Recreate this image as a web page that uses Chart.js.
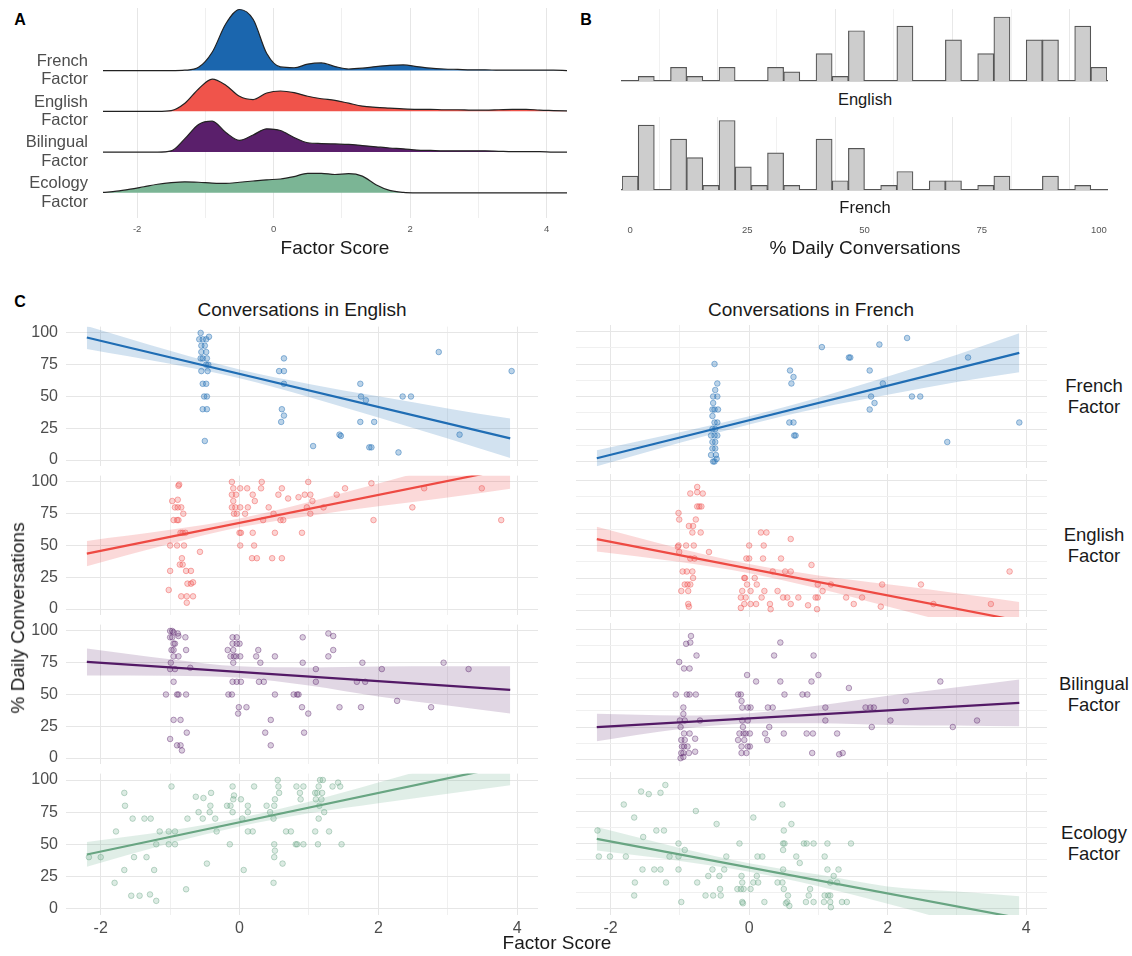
<!DOCTYPE html>
<html>
<head>
<meta charset="utf-8">
<title>Factor scores and daily conversations</title>
<script src="https://cdn.jsdelivr.net/npm/chart.js@4.4.1/dist/chart.umd.min.js"></script>
<style>
  body { margin: 0; background: #fff; font-family: "Liberation Sans", Arial, sans-serif; }
  .wrapper { position: relative; width: 1132px; height: 956px; overflow: hidden; }
  canvas { position: absolute; }
  .label { position: absolute; transform: translate(-50%, -50%); white-space: nowrap; text-align: center; color: #1a1a1a; line-height: 1.15; }
  .letter { font-weight: bold; color: #000; }
</style>
</head>
<body>
<div class="wrapper"></div>
<script>
const $wrapper = document.querySelector(".wrapper");

// panel A: ridgeline densities (height in ridge spacings)
const ridgeX = [-2.5, -2.3, -2.1, -1.9, -1.7, -1.5, -1.3, -1.1, -0.9, -0.7, -0.5, -0.3, -0.1, 0.1, 0.3, 0.5, 0.7, 0.9, 1.1, 1.3, 1.5, 1.7, 1.9, 2.1, 2.3, 2.5, 2.7, 2.9, 3.1, 3.3, 3.5, 3.7, 3.9, 4.1, 4.3];
const frenchDensity = [0, 0, 0, 0, 0, 0, 0.01, 0.08, 0.45, 1.15, 1.5, 1.26, 0.42, 0.09, 0.07, 0.16, 0.19, 0.1, 0.04, 0.06, 0.1, 0.13, 0.14, 0.1, 0.06, 0.04, 0.03, 0.02, 0.02, 0.01, 0.01, 0.01, 0.01, 0.01, 0];
const englishDensity = [0, 0, 0, 0, 0, 0.02, 0.2, 0.55, 0.79, 0.64, 0.37, 0.29, 0.45, 0.5, 0.46, 0.37, 0.31, 0.27, 0.2, 0.13, 0.1, 0.08, 0.06, 0.05, 0.05, 0.04, 0.04, 0.03, 0.03, 0.04, 0.05, 0.05, 0.03, 0.02, 0.01];
const bilingualDensity = [0, 0, 0, 0, 0, 0.03, 0.33, 0.68, 0.76, 0.48, 0.29, 0.42, 0.57, 0.53, 0.36, 0.23, 0.21, 0.2, 0.19, 0.16, 0.13, 0.1, 0.08, 0.05, 0.04, 0.03, 0.03, 0.03, 0.03, 0.02, 0.01, 0.01, 0.01, 0, 0];
const ecologyDensity = [0.01, 0.04, 0.09, 0.15, 0.21, 0.25, 0.27, 0.26, 0.24, 0.23, 0.26, 0.29, 0.32, 0.34, 0.4, 0.48, 0.48, 0.45, 0.47, 0.41, 0.2, 0.06, 0.01, 0, 0, 0, 0, 0, 0, 0, 0, 0, 0, 0, 0];
const ridgeNames = [["Ecology", "Factor"], ["Bilingual", "Factor"], ["English", "Factor"], ["French", "Factor"]];
const scoreTicks = [-2, -1, 0, 1, 2, 3, 4];

// panel B: histogram counts, 30 bins
const binCenters = [0, 3.45, 6.9, 10.34, 13.79, 17.24, 20.69, 24.14, 27.59, 31.03, 34.48, 37.93, 41.38, 44.83, 48.28, 51.72, 55.17, 58.62, 62.07, 65.52, 68.97, 72.41, 75.86, 79.31, 82.76, 86.21, 89.66, 93.1, 96.55, 100];
const englishCounts = [0, 1, 0, 3, 1, 0, 3, 0, 0, 3, 2, 0, 6, 1, 11, 0, 0, 12, 0, 0, 9, 0, 6, 14, 0, 9, 9, 0, 12, 3];
const frenchCounts = [3, 14, 0, 11, 7, 1, 15, 5, 1, 8, 1, 0, 11, 2, 9, 0, 1, 4, 0, 2, 2, 0, 1, 3, 0, 0, 3, 0, 1, 0];
const pctTicks = [0, 12.5, 25, 37.5, 50, 62.5, 75, 87.5, 100];

// panel C: fitted lines, bands and points [factor score, % conversations]
const lineX = [-2.2, 3.9];
const bandX = [-2.2, -1, 0, 1, 2, 3, 3.9];

const frEngLine = [96.4, 17.1];
const frEngUpper = [105.4, 85.9, 71.3, 59.9, 50.1, 40.6, 32.6];
const frEngLower = [87.4, 75.7, 64.3, 49.7, 33.5, 17.0, 1.6];
const frEngPts = [[-0.56,100],[-0.58,95],[-0.53,95],[-0.48,95],[-0.44,97],[-0.55,90],[-0.5,90],[-0.55,85],[-0.48,85],[-0.56,80],[-0.53,80],[-0.47,80],[-0.48,75],[-0.45,75],[-0.55,70],[-0.46,70],[-0.53,60],[-0.48,60],[-0.51,50],[-0.47,50],[-0.53,40],[-0.47,40],[-0.5,15],
  [0.64,80],[0.57,70],[0.64,70],[0.64,60],[0.61,40],[0.64,35],[0.6,30],[1.06,11],[1.44,20],[1.46,19],[1.74,60],[1.75,50],[1.82,47],[1.74,30],[1.94,30],[1.87,10],[1.9,10],[2.29,6],[2.35,50],[2.47,50],[2.87,85],[3.17,20],[3.92,70]];

const frFreLine = [2.5, 83.6];
const frFreUpper = [8.7, 22.5, 34.9, 49, 65.3, 82.1, 98.6];
const frFreLower = [-3.7, 14.5, 28.5, 41, 51.3, 61.1, 68.6];
const frFrePts = [[-0.5,75],[-0.46,60],[-0.49,55],[-0.52,50],[-0.46,50],[-0.52,45],[-0.53,40],[-0.5,40],[-0.45,40],[-0.53,35],[-0.5,30],[-0.46,30],[-0.53,25],[-0.49,25],[-0.55,20],[-0.5,20],[-0.46,20],[-0.53,15],[-0.49,15],[-0.53,10],[-0.49,10],[-0.55,5],[-0.48,5],[-0.52,0],[-0.5,0],[-0.47,2],
  [0.59,70],[0.64,65],[0.61,60],[0.58,30],[0.64,30],[0.65,20],[0.67,20],[1.05,88],[1.44,80],[1.46,80],[1.88,90],[2.28,95],[1.74,70],[1.93,60],[1.76,50],[1.81,45],[1.74,40],[2.35,50],[2.47,50],[3.16,80],[2.86,15],[3.9,30]];

const enEngLine = [43.6, 110.7];
const enEngUpper = [53.6, 62.3, 71.3, 84.3, 98.8, 113.8, 126.7];
const enEngLower = [33.6, 51.3, 64.3, 73.3, 80.8, 87.8, 94.7];
const enEngPts = [[-0.88,97],[-0.87,98],[-0.97,85],[-0.89,86],[-0.93,80],[-0.89,80],[-0.84,80],[-0.81,75],[-0.95,70],[-0.9,70],[-0.88,70],[-0.85,60],[-0.82,60],[-0.78,60],[-1.0,50],[-0.9,50],[-0.8,50],[-0.83,40],[-0.86,35],[-0.82,35],[-1.0,30],[-0.77,30],[-0.7,30],[-0.75,20],[-0.7,20],[-0.67,21],[-1.02,15],[-0.84,10],[-0.76,10],[-0.67,10],[-0.76,5],[-0.57,45],
  [-0.11,100],[-0.09,95],[0.01,95],[0.11,95],[0.31,95],[0.32,100],[-0.11,90],[-0.05,90],[0.19,90],[-0.09,85],[0.22,85],[-0.11,80],[-0.06,80],[0.01,80],[0.12,80],[-0.08,75],[-0.04,75],[0.08,75],[0,60],[0.02,60],[0.19,60],[0.51,60],[0.01,50],[0.21,50],[0.18,40],[0.25,40],[0.47,40],[0.61,40],[0.34,70],[0.42,80],[0.49,75],[0.56,90],[0.61,95],[0.59,70],[0.63,70],[0.7,87],[0.85,88],[0.94,90],[0.99,100],[1.02,90],[0.97,80],[1.05,85],[1.02,75],[0.9,60],[1.21,80],[1.4,90],[1.52,95],[1.9,99],[1.93,70],[2.49,80],[2.66,95],[3.49,95],[3.77,70]];

const enFreLine = [54.9, -8.0];
const enFreUpper = [64.4, 47.7, 35.7, 26.9, 20.1, 13.3, 6.5];
const enFreLower = [45.4, 37.3, 28.7, 16.9, 3.1, -10.7, -22.5];
const enFrePts = [[-0.75,95],[-0.85,90],[-0.75,91],[-0.67,90],[-0.75,80],[-0.72,80],[-0.69,80],[-1.02,75],[-1.01,70],[-0.77,70],[-0.87,65],[-0.81,65],[-0.82,60],[-0.7,60],[-1.02,50],[-0.91,50],[-0.8,50],[-1.03,49],[-1.01,45],[-0.58,45],[-0.85,40],[-0.79,40],[-0.96,30],[-0.9,30],[-0.82,30],[-0.81,25],[-0.93,20],[-0.89,20],[-0.85,20],[-0.98,15],[-0.88,15],[-0.88,5],[-0.87,3],
  [0.17,60],[0.25,60],[0,50],[0.21,50],[-0.04,40],[0,40],[0.2,40],[0.46,40],[0.6,55],[0.34,30],[0.52,30],[0.6,30],[0.08,25],[-0.07,25],[-0.06,25],[-0.03,20],[0.11,20],[-0.1,15],[0.02,15],[0.22,15],[0.41,15],[-0.12,10],[-0.05,10],[0.18,10],[0.49,10],[0.55,10],[0.71,10],[-0.07,5],[0.02,5],[0.1,5],[0.3,5],[0.6,5],[0.85,4],[-0.12,2],[0.31,1],[0.9,35],[0.99,20],[1.06,15],[1.18,20],[0.96,10],[0.99,10],[0.98,1],[1.4,10],[1.51,5],[1.63,10],[1.9,3],[1.92,20],[2.48,20],[2.66,5],[3.49,5],[3.76,30]];

const biEngLine = [75.6, 53.6];
const biEngUpper = [86.2, 77.8, 72.2, 71.3, 72.0, 72.3, 72.3];
const biEngLower = [65, 64.8, 63.2, 57.1, 48.5, 41.4, 35];
const biEngPts = [[-1.0,100],[-0.97,100],[-0.95,99],[-0.89,98],[-1.0,95],[-0.97,95],[-0.88,96],[-0.78,95],[-0.95,90],[-0.93,90],[-0.98,85],[-0.95,85],[-0.77,85],[-0.95,80],[-0.88,80],[-0.99,75],[-1.0,70],[-0.93,70],[-0.71,71],[-0.95,60],[-1.06,50],[-0.9,50],[-0.88,50],[-0.77,50],[-0.95,30],[-0.85,30],[-0.76,20],[-1.0,15],[-0.9,10],[-0.85,10],[-0.83,6],
  [-0.1,95],[-0.04,95],[-0.1,90],[-0.04,90],[0,90],[-0.17,85],[-0.09,85],[-0.13,80],[-0.08,80],[-0.05,80],[0.01,80],[-0.09,75],[-0.1,60],[-0.04,60],[0.02,60],[-0.16,50],[-0.11,50],[-0.01,40],[0.1,40],[-0.02,35],[0.27,85],[0.24,80],[0.3,75],[0.51,80],[0.28,60],[0.35,60],[0.51,50],[0.45,30],[0.37,20],[0.45,10],[0.78,50],[0.83,50],[0.85,50],[0.91,95],[0.91,75],[1.1,70],[1.1,60],[0.9,40],[0.99,35],[0.93,20],[1.28,98],[1.35,96],[1.28,80],[1.35,85],[1.44,40],[1.69,60],[1.81,60],[1.75,40],[1.77,75],[2.05,70],[2.27,45],[2.76,40],[2.94,75],[3.3,70]];

const biFreLine = [24.9, 43.6];
const biFreUpper = [35.1, 33.8, 35.6, 41.5, 49, 55.5, 61.5];
const biFreLower = [14.1, 23.4, 27.6, 27.9, 26.6, 26.1, 25.5];
const biFrePts = [[-0.84,95],[-0.91,89],[-0.85,90],[-0.76,80],[-1.01,75],[-0.94,70],[-0.86,70],[-1.06,50],[-0.9,50],[-0.86,50],[-0.77,50],[-0.95,40],[-0.95,35],[-1.0,30],[-0.93,30],[-0.71,30],[-0.99,25],[-0.94,20],[-0.86,20],[-0.98,15],[-0.93,15],[-0.78,16],[-0.97,10],[-0.94,10],[-0.89,10],[-0.98,5],[-0.95,5],[-0.87,5],[-0.78,6],[-0.99,1],[-0.95,2],
  [-0.16,50],[-0.12,50],[-0.11,45],[-0.1,40],[-0.02,40],[0.02,40],[-0.1,30],[-0.02,30],[-0.09,25],[-0.14,20],[-0.08,20],[-0.05,20],[0.01,20],[-0.16,15],[-0.07,15],[-0.11,10],[-0.02,10],[0.01,10],[-0.11,5],[-0.04,5],[-0.03,65],[0.1,60],[0.36,80],[0.45,90],[0.45,60],[0.51,50],[0.27,40],[0.34,40],[0.29,25],[0.23,20],[0.26,15],[0.5,20],[0.77,50],[0.84,50],[0.9,60],[0.93,80],[1.0,65],[0.83,20],[0.92,20],[0.91,5],[1.1,40],[1.1,30],[1.27,20],[1.3,4],[1.35,5],[1.44,55],[1.68,40],[1.75,40],[1.8,40],[1.77,25],[2.04,30],[2.26,45],[2.76,60],[2.94,25],[3.29,30]];

const ecEngLine = [42.1, 111.6];
const ecEngUpper = [51.7, 60.8, 70.5, 83.1, 98, 113.4, 127.3];
const ecEngLower = [32.5, 50.8, 63.9, 74.1, 82, 89.4, 95.9];
const ecEngPts = [[-1.66,90],[-1.65,80],[-1.54,70],[-1.37,70],[-1.28,70],[-1.78,60],[-2.17,40],[-2.0,40],[-1.52,40],[-1.34,40],[-1.66,30],[-1.23,30],[-1.8,20],[-1.56,10],[-1.44,10],[-1.29,11],[-1.2,6],[-1.15,60],[-1.02,60],[-0.93,60],[-1.2,50],[-1.02,50],[-0.93,50],[-0.98,95],[-0.75,70],[-0.77,15],[-0.63,87],[-0.52,86],[-0.41,90],[-0.59,75],[-0.43,75],[-0.42,80],[-0.53,70],[-0.35,70],[-0.33,60],[-0.47,35],[-0.14,50],[-0.18,80],[-0.13,80],[-0.09,85],[-0.08,88],[-0.1,95],[0.02,85],[-0.1,75],[0.12,75],[0.12,80],[0.04,70],[0.12,60],[0.19,60],[0.06,30],[0.21,95],[0.39,80],[0.5,80],[0.51,85],[0.44,75],[0.49,70],[0.55,100],[0.56,95],[0.57,90],[0.5,50],[0.51,45],[0.5,40],[0.62,35],[0.49,20],[0.67,60],[0.74,60],[0.82,95],[0.92,95],[0.87,90],[0.88,85],[0.81,50],[0.83,50],[0.92,50],[1.09,90],[1.12,90],[1.19,90],[1.1,85],[1.18,85],[1.15,80],[1.14,95],[1.16,100],[1.2,100],[1.14,70],[1.22,75],[1.09,60],[1.29,60],[1.13,50],[1.34,95],[1.42,98],[1.45,95],[1.47,50]];

const ecFreLine = [53.6, -7.4];
const ecFreUpper = [62.6, 46.6, 34.9, 26.1, 17, 13, 9.5];
const ecFreLower = [44.6, 36.6, 28.3, 17.1, 3.6, -10.9, -24.3];
const ecFrePts = [[-1.21,95],[-1.56,90],[-1.45,88],[-1.28,89],[-1.81,80],[-1.66,70],[-0.77,75],[-2.19,60],[-1.34,60],[-1.23,60],[-1.53,55],[-1.02,50],[-2.17,40],[-2.01,40],[-1.78,40],[-0.93,45],[-1.15,40],[-1.02,40],[-1.54,30],[-1.37,30],[-1.28,30],[-1.02,30],[-1.65,20],[-1.2,20],[-1.66,10],[-0.98,5],[-0.75,20],[-0.47,65],[-0.33,40],[-0.53,30],[-0.36,30],[-0.59,25],[-0.43,25],[-0.63,10],[-0.52,10],[-0.41,10],[-0.42,15],[-0.14,50],[-0.11,25],[-0.1,20],[-0.17,15],[-0.12,15],[-0.08,15],[0.02,15],[-0.1,5],[-0.09,4],[0.06,70],[0.12,40],[0.19,40],[0.11,25],[0.06,20],[0.13,20],[0.22,5],[0.48,80],[0.5,60],[0.49,50],[0.51,50],[0.49,45],[0.49,30],[0.41,20],[0.48,20],[0.5,15],[0.56,10],[0.55,5],[0.58,2],[0.53,4],[0.61,65],[0.68,40],[0.73,35],[0.79,50],[0.83,50],[0.93,50],[0.88,15],[0.86,10],[0.82,5],[0.93,5],[1.09,40],[1.13,50],[1.13,30],[1.29,30],[1.22,25],[1.17,20],[1.27,20],[1.09,10],[1.14,10],[1.17,10],[1.08,5],[1.17,5],[1.18,1],[1.34,5],[1.41,5],[1.47,50]];

const blue = { ridge: "#1b66ae", line: "#1f6db4", band: "rgba(31,109,180,0.2)", dot: "rgba(31,109,180,0.3)", edge: "rgba(31,109,180,0.45)" };
const red = { ridge: "#f0544b", line: "#ee4a43", band: "rgba(239,83,80,0.22)", dot: "rgba(239,83,80,0.25)", edge: "rgba(239,83,80,0.45)" };
const purple = { ridge: "#5a1f6b", line: "#531a66", band: "rgba(88,31,104,0.18)", dot: "rgba(88,31,104,0.22)", edge: "rgba(88,31,104,0.4)" };
const green = { ridge: "#7bb595", line: "#68a582", band: "rgba(116,176,144,0.22)", dot: "rgba(116,176,144,0.25)", edge: "rgba(100,160,128,0.4)" };

const rowTops = [325, 474, 623, 772];

Chart.defaults.font.family = "'Liberation Sans', Arial, sans-serif";
Chart.defaults.color = "#4d4d4d";
Chart.defaults.animation = false;
Chart.defaults.plugins.legend.display = false;
Chart.defaults.plugins.tooltip.enabled = false;

initPage();

function initPage()
{
  addLabel("A", 20, 20, 16, "letter");
  addLabel("B", 586, 20, 16, "letter");
  addLabel("C", 20, 302, 16, "letter");

  drawRidges();
  drawHistogram(englishCounts, 5, 82, false);
  drawHistogram(frenchCounts, 113, 127, true);

  addLabel("Factor Score", 335, 248, 19);
  addLabel("English", 865, 99, 16.5);
  addLabel("French", 865, 207, 16.5);
  addLabel("% Daily Conversations", 865, 248, 19);

  addLabel("Conversations in English", 302, 310, 19);
  addLabel("Conversations in French", 811, 310, 19);

  drawScatter(0, 0, frEngPts, frEngLine, frEngUpper, frEngLower, blue);
  drawScatter(0, 1, frFrePts, frFreLine, frFreUpper, frFreLower, blue);
  drawScatter(1, 0, enEngPts, enEngLine, enEngUpper, enEngLower, red);
  drawScatter(1, 1, enFrePts, enFreLine, enFreUpper, enFreLower, red);
  drawScatter(2, 0, biEngPts, biEngLine, biEngUpper, biEngLower, purple);
  drawScatter(2, 1, biFrePts, biFreLine, biFreUpper, biFreLower, purple);
  drawScatter(3, 0, ecEngPts, ecEngLine, ecEngUpper, ecEngLower, green);
  drawScatter(3, 1, ecFrePts, ecFreLine, ecFreUpper, ecFreLower, green);

  let strips = ["French<br>Factor", "English<br>Factor", "Bilingual<br>Factor", "Ecology<br>Factor"];
  strips.forEach((text, i) =>
  {
    let $strip = addLabel(text, 1094, rowTops[i] + 71, 18.5);
    $strip.style.lineHeight = "21px";
  });

  let $yTitle = addLabel("% Daily Conversations", 18, 618, 19);
  $yTitle.style.transform = "translate(-50%, -50%) rotate(-90deg)";
  addLabel("Factor Score", 557, 943, 19);
}

function addLabel(text, x, y, size, cls)
{
  let $label = document.createElement("div");
  $label.className = cls ? "label " + cls : "label";
  $label.innerHTML = text;
  $label.style.left = x + "px";
  $label.style.top = y + "px";
  $label.style.fontSize = size + "px";
  $wrapper.append($label);
  return $label;
}

function makeCanvas(left, top, width, height)
{
  let $canvas = document.createElement("canvas");
  $canvas.width = width;
  $canvas.height = height;
  $canvas.style.left = left + "px";
  $canvas.style.top = top + "px";
  $canvas.style.width = width + "px";
  $canvas.style.height = height + "px";
  $wrapper.append($canvas);
  return $canvas;
}

function fixedTicks(values)
{
  return function (scale) { scale.ticks = values.map(v => ({ value: v })); };
}

function gridColor(step, major, minor)
{
  return ctx => (ctx.tick && Math.abs(ctx.tick.value % step) < 1e-6) ? major : minor;
}

function drawRidges()
{
  let $canvas = makeCanvas(0, -22, 571, 265);
  let ridges = [ecologyDensity, bilingualDensity, englishDensity, frenchDensity];
  let colors = [green.ridge, purple.ridge, red.ridge, blue.ridge];

  let datasets = ridges.map((dens, offset) => ({
    data: ridgeX.map((x, i) => ({ x: x, y: offset + dens[i] })),
    fill: { value: offset },
    backgroundColor: colors[offset],
    borderColor: "#222222",
    borderWidth: 1.2,
    pointRadius: 0,
    cubicInterpolationMode: "monotone"
  }));

  new Chart($canvas, {
    type: "line",
    data: { datasets: datasets },
    options: {
      responsive: false,
      events: [],
      layout: { padding: { top: 30, right: 4, left: 0, bottom: 0 } },
      scales: {
        x: {
          type: "linear", min: -2.5, max: 4.3,
          afterBuildTicks: fixedTicks(scoreTicks),
          afterFit: s => { s.height = 24; },
          grid: { color: gridColor(2, "#e6e6e6", "#efefef"), drawTicks: false },
          border: { display: false },
          ticks: { padding: 6, font: { size: 9.5 }, color: "#555", callback: v => v % 2 === 0 ? v : "" }
        },
        y: {
          min: -0.61, max: 4.537,
          afterBuildTicks: fixedTicks([0, 1, 2, 3]),
          afterFit: s => { s.width = 103; },
          grid: { display: false },
          border: { display: false },
          ticks: { padding: 7, font: { size: 16.5, lineHeight: 1.11 }, color: "#4d4d4d", callback: v => ridgeNames[v] }
        }
      }
    }
  });
}

function drawHistogram(counts, top, height, showTicks)
{
  let $canvas = makeCanvas(618, top, 493, height);

  // tick labels sit below the strip label, so push them down with invisible tick marks
  new Chart($canvas, {
    type: "bar",
    data: {
      datasets: [{
        data: binCenters.map((x, i) => ({ x: x, y: counts[i] })),
        backgroundColor: "#cdcdcd",
        borderColor: "#555555",
        borderWidth: 1.2,
        barPercentage: 1,
        categoryPercentage: 1
      }]
    },
    options: {
      responsive: false,
      events: [],
      layout: { padding: { top: 4, right: 4, left: 4, bottom: showTicks ? 0 : 6 } },
      scales: {
        x: {
          type: "linear", min: -1.724, max: 101.724, offset: false,
          afterBuildTicks: fixedTicks(pctTicks),
          afterFit: s => { s.height = showTicks ? 50 : 0; },
          grid: { color: gridColor(25, "#e8e8e8", "#f1f1f1"), drawTicks: showTicks, tickLength: 33, tickColor: "rgba(0,0,0,0)" },
          border: { display: true, color: "#555555", width: 1.2 },
          ticks: { display: showTicks, padding: 2, font: { size: 9.5 }, color: "#555", callback: v => v % 25 === 0 ? v : "" }
        },
        y: { display: false, min: 0, max: 15.75 }
      }
    }
  });
}

function drawScatter(row, col, pts, lineY, upper, lower, color)
{
  let last = row === 3;
  let left = col === 0 ? 0 : 571;
  let width = col === 0 ? 543 : 481;
  let height = 16 + 143 + (last ? 30 : 16);
  let $canvas = makeCanvas(left, rowTops[row] - 16, width, height);

  let data = {
    datasets: [
      {
        data: lineX.map((x, i) => ({ x: x, y: lineY[i] })),
        borderColor: color.line, borderWidth: 2.2, pointRadius: 0, order: 0
      },
      {
        data: bandX.map((x, i) => ({ x: x, y: upper[i] })),
        borderColor: "rgba(0,0,0,0)", borderWidth: 0, pointRadius: 0, fill: false,
        cubicInterpolationMode: "monotone", order: 1
      },
      {
        data: bandX.map((x, i) => ({ x: x, y: lower[i] })),
        borderColor: "rgba(0,0,0,0)", borderWidth: 0, pointRadius: 0, fill: "-1",
        backgroundColor: color.band, cubicInterpolationMode: "monotone", order: 1
      },
      {
        data: pts.map(p => ({ x: p[0], y: p[1] })),
        showLine: false, pointRadius: 2.8, pointBackgroundColor: color.dot,
        pointBorderColor: color.edge, pointBorderWidth: 1, order: 2
      }
    ]
  };

  let config = {
    type: "line",
    data: data,
    options: {
      responsive: false,
      events: [],
      layout: { padding: { top: 16, bottom: last ? 0 : 16, left: col === 0 ? 0 : 4, right: 4 } },
      scales: {
        x: {
          type: "linear", min: -2.5, max: 4.3,
          afterBuildTicks: fixedTicks(scoreTicks),
          afterFit: s => { s.height = last ? 30 : 0; },
          grid: { color: gridColor(2, "#e6e6e6", "#f0f0f0"), drawTicks: false },
          border: { display: false },
          ticks: { display: last, padding: 4, font: { size: 16 }, color: "#4d4d4d", callback: v => v % 2 === 0 ? v : "" }
        },
        y: {
          min: -5, max: 105,
          afterBuildTicks: fixedTicks(pctTicks),
          afterFit: s => { s.width = col === 0 ? 66 : 0; },
          grid: { color: gridColor(25, "#e6e6e6", "#f0f0f0"), drawTicks: false },
          border: { display: false },
          ticks: { display: col === 0, padding: 8, font: { size: 16 }, color: "#4d4d4d", callback: v => v % 25 === 0 ? v : "" }
        }
      }
    }
  };

  new Chart($canvas, config);
}
</script>
</body>
</html>
